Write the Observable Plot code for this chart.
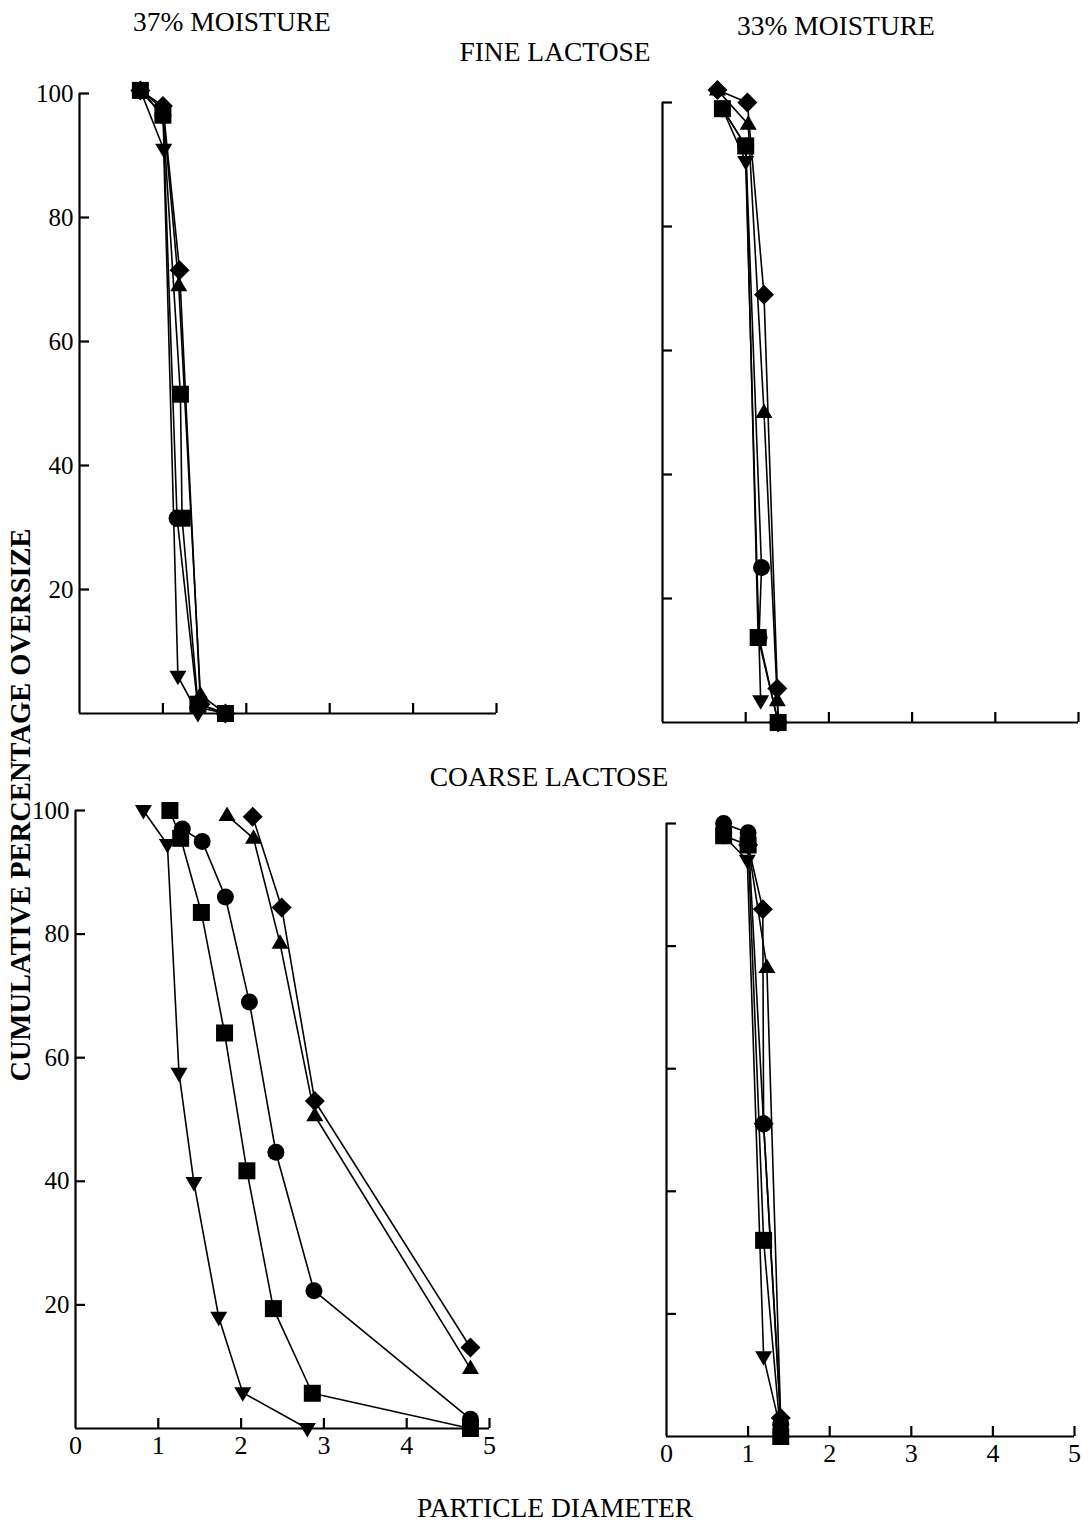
<!DOCTYPE html>
<html>
<head>
<meta charset="utf-8">
<script src="https://cdn.jsdelivr.net/npm/d3@7"></script>
<script src="https://cdn.jsdelivr.net/npm/@observablehq/plot@0.6"></script>
<style>
  html, body { margin: 0; padding: 0; background: white; }
  #root { position: relative; width: 1092px; height: 1525px; overflow: hidden; background: white;
          font-family: "Liberation Serif", "Times New Roman", serif; color: black; }
  .lbl { position: absolute; transform: translate(-50%, -50%); white-space: nowrap; font-size: 27.5px; }
  .panel { position: absolute; }
</style>
</head>
<body>
<div id="root"></div>
<script>
// ---- Data (particle diameter, cumulative % oversize) ----
const xTicks = [0, 1, 2, 3, 4, 5];
const yTicks = [20, 40, 60, 80, 100];
const seriesNames = ["diamond", "triangleUp", "circle", "square", "triangleDown"];

// Fine lactose, 37% moisture
const fine37 = [
  ["diamond", 0.73, 100.5], ["diamond", 1.0, 98], ["diamond", 1.2, 71.5], ["diamond", 1.45, 1.5], ["diamond", 1.75, 0],
  ["triangleUp", 0.73, 100.5], ["triangleUp", 1.0, 97.5], ["triangleUp", 1.19, 69], ["triangleUp", 1.45, 3], ["triangleUp", 1.75, 0],
  ["circle", 0.73, 100.5], ["circle", 1.0, 96.5], ["circle", 1.17, 31.5], ["circle", 1.42, 1], ["circle", 1.75, 0],
  ["square", 0.73, 100.5], ["square", 1.0, 96.5], ["square", 1.21, 51.5], ["square", 1.23, 31.5], ["square", 1.42, 1.5], ["square", 1.75, 0],
  ["triangleDown", 0.73, 100.5], ["triangleDown", 1.01, 91], ["triangleDown", 1.18, 6], ["triangleDown", 1.42, 0]
];
// Fine lactose, 33% moisture
const fine33 = [
  ["diamond", 0.66, 102], ["diamond", 1.02, 100], ["diamond", 1.22, 69], ["diamond", 1.38, 5.5], ["diamond", 1.39, 0],
  ["triangleUp", 0.66, 102], ["triangleUp", 1.03, 96.5], ["triangleUp", 1.22, 50], ["triangleUp", 1.38, 3.5], ["triangleUp", 1.39, 0],
  ["circle", 0.72, 99], ["circle", 1.0, 93], ["circle", 1.19, 25], ["circle", 1.16, 13.7], ["circle", 1.39, 0],
  ["square", 0.72, 99], ["square", 1.0, 93], ["square", 1.15, 13.7], ["square", 1.39, 0],
  ["triangleDown", 0.72, 99], ["triangleDown", 1.0, 90.5], ["triangleDown", 1.18, 3.5]
];
// Coarse lactose, 37% moisture
const coarse37 = [
  ["triangleDown", 0.82, 100], ["triangleDown", 1.11, 94.5], ["triangleDown", 1.25, 57.5], ["triangleDown", 1.43, 39.8], ["triangleDown", 1.73, 18], ["triangleDown", 2.02, 5.8], ["triangleDown", 2.8, 0],
  ["square", 1.14, 100], ["square", 1.27, 95.5], ["square", 1.52, 83.5], ["square", 1.8, 64], ["square", 2.07, 41.7], ["square", 2.39, 19.4], ["square", 2.86, 5.7], ["square", 4.77, 0],
  ["circle", 1.29, 97], ["circle", 1.53, 95], ["circle", 1.81, 86], ["circle", 2.1, 69], ["circle", 2.42, 44.7], ["circle", 2.88, 22.3], ["circle", 4.77, 1.5],
  ["triangleUp", 1.83, 99.2], ["triangleUp", 2.15, 95.5], ["triangleUp", 2.47, 78.5], ["triangleUp", 2.89, 50.6], ["triangleUp", 4.77, 9.7],
  ["diamond", 2.14, 99], ["diamond", 2.49, 84.3], ["diamond", 2.89, 53], ["diamond", 4.77, 13.1]
];
// Coarse lactose, 33% moisture
const coarse33 = [
  ["circle", 0.7, 100], ["circle", 1.0, 98.5], ["circle", 1.19, 51], ["circle", 1.4, 2],
  ["square", 0.7, 98], ["square", 1.0, 96.5], ["square", 1.19, 32], ["square", 1.4, 0],
  ["triangleDown", 0.7, 98], ["triangleDown", 0.99, 94], ["triangleDown", 1.19, 13], ["triangleDown", 1.4, 1],
  ["diamond", 1.0, 96.5], ["diamond", 1.18, 86], ["diamond", 1.19, 51], ["diamond", 1.4, 3],
  ["triangleUp", 1.0, 96.5], ["triangleUp", 1.23, 76.5], ["triangleUp", 1.4, 2.5]
];

// ---- Marker shapes ----
const symbols = {
  square: {draw(c) { c.rect(-8.5, -8.5, 17, 17); }},
  circle: {draw(c) { c.moveTo(8.5, 0); c.arc(0, 0, 8.5, 0, 2 * Math.PI); }},
  diamond: {draw(c) { c.moveTo(0, -10); c.lineTo(10, 0); c.lineTo(0, 10); c.lineTo(-10, 0); c.closePath(); }},
  triangleUp: {draw(c) { c.moveTo(0, -9); c.lineTo(8.5, 5.5); c.lineTo(-8.5, 5.5); c.closePath(); }},
  triangleDown: {draw(c) { c.moveTo(0, 9); c.lineTo(8.5, -5.5); c.lineTo(-8.5, -5.5); c.closePath(); }}
};

const root = document.getElementById("root");

function panel({data, left, top, width, height, ml, mr, mt, mb, showY, showX}) {
  const rows = data.map(([s, x, y]) => ({s, x, y}));
  const iw = width - ml - mr, ih = height - mt - mb;
  const marks = [
    Plot.ruleX([0], {stroke: "black", strokeWidth: 2.2}),
    Plot.ruleY([0], {stroke: "black", strokeWidth: 2.2}),
    Plot.tickY(yTicks, {y: d => d, insetRight: iw - 10, stroke: "black", strokeWidth: 2.2}),
    Plot.tickX(xTicks.slice(1), {x: d => d, insetTop: ih - 10, stroke: "black", strokeWidth: 2.2}),
    Plot.line(rows, {x: "x", y: "y", z: "s", stroke: "black", strokeWidth: 1.6})
  ];
  for (const name of seriesNames) {
    marks.push(Plot.dot(rows.filter(d => d.s === name), {x: "x", y: "y", r: 5, symbol: symbols[name], fill: "black", stroke: "none"}));
  }
  if (showY) marks.push(Plot.axisY(yTicks, {tickSize: 0, tickPadding: 6, label: null, fontSize: 25}));
  if (showX) marks.push(Plot.axisX(xTicks, {tickSize: 0, tickPadding: 7, label: null, fontSize: 26}));
  const svg = Plot.plot({
    width, height,
    marginLeft: ml, marginRight: mr, marginTop: mt, marginBottom: mb,
    x: {domain: [0, 5], ...(showX ? {} : {axis: null})},
    y: {domain: [0, 100], ...(showY ? {} : {axis: null})},
    style: {background: "transparent", overflow: "visible", fontFamily: "'Liberation Serif', 'Times New Roman', serif", fontSize: "25px", color: "black"},
    marks
  });
  svg.classList.add("panel");
  svg.style.left = left + "px";
  svg.style.top = top + "px";
  root.appendChild(svg);
}

panel({data: fine37, left: 0, top: 0, width: 546, height: 750, ml: 79, mr: 50, mt: 93, mb: 37, showY: true, showX: false});
panel({data: fine33, left: 546, top: 0, width: 546, height: 750, ml: 116, mr: 14, mt: 102, mb: 28, showY: false, showX: false});
panel({data: coarse37, left: 0, top: 750, width: 546, height: 775, ml: 75, mr: 57, mt: 60, mb: 97, showY: true, showX: true});
panel({data: coarse33, left: 546, top: 750, width: 546, height: 775, ml: 120, mr: 18, mt: 73, mb: 89, showY: false, showX: true});

function label(text, x, y, extra) {
  const d = document.createElement("div");
  d.className = "lbl";
  d.textContent = text;
  d.style.left = x + "px";
  d.style.top = y + "px";
  if (extra) Object.assign(d.style, extra);
  root.appendChild(d);
}
label("37% MOISTURE", 232, 22);
label("33% MOISTURE", 836, 26);
label("FINE LACTOSE", 555, 52);
label("COARSE LACTOSE", 549, 777);
label("PARTICLE DIAMETER", 555, 1508);
label("CUMULATIVE PERCENTAGE OVERSIZE", 21, 805, {transform: "translate(-50%, -50%) rotate(-90deg)", fontWeight: "bold", fontSize: "28.5px"});
</script>
</body>
</html>
